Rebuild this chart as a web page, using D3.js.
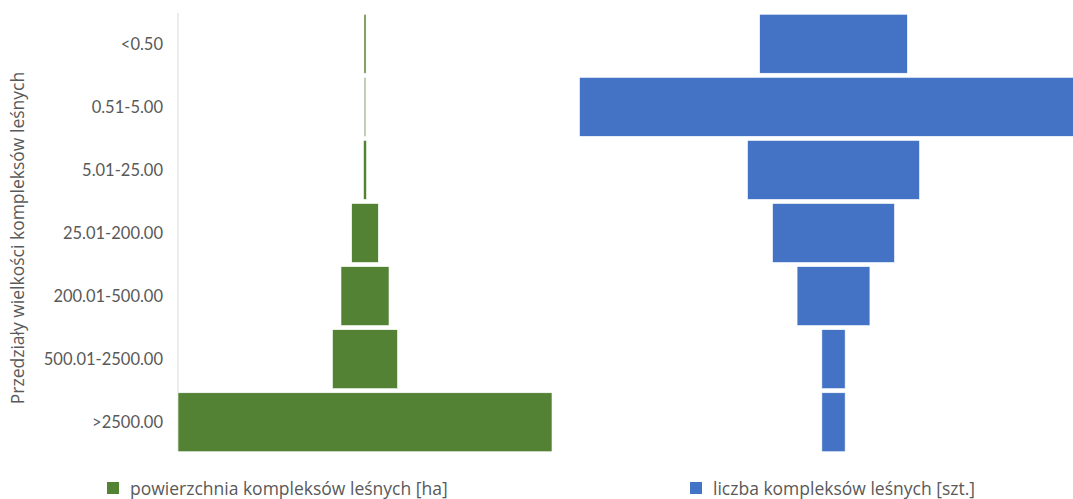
<!DOCTYPE html>
<html>
<head>
<meta charset="utf-8">
<script src="https://cdnjs.cloudflare.com/ajax/libs/d3/7.8.5/d3.min.js"></script>
<style>
  body { margin: 0; background: #fff; }
  svg { display: block; }
  text { font-family: Lato, "Open Sans", sans-serif; fill: #595959; }
  .wide { font-family: "Open Sans", Lato, sans-serif; }
</style>
</head>
<body>
<svg width="1073" height="499"></svg>
<script>
// size classes of forest complexes (top to bottom)
const categories = ['<0.50', '0.51-5.00', '5.01-25.00', '25.01-200.00', '200.01-500.00', '500.01-2500.00', '>2500.00'];

// area of forest complexes [ha]
const areaValues = [2000, 1500, 3000, 25800, 46500, 63000, 362000];

// number of forest complexes
const countValues = [1460, 5020, 1700, 1205, 720, 230, 230];

const seriesNames = ['powierzchnia kompleksów leśnych [ha]', 'liczba kompleksów leśnych [szt.]'];
const colors = ['#548235', '#4472C4'];

const [width, height] = [1073, 499];
const svg = d3.select('svg');

const plotLeft = 178;
const greenCenter = 365;
const blueCenter = 833.5;

const y = d3.scaleBand()
  .domain(categories)
  .range([13, 453])
  .paddingInner(0.065)
  .paddingOuter(0.02);

// each funnel gets its own width scale, the biggest bar spans the panel
const xArea = d3.scaleLinear()
  .domain([0, d3.max(areaValues)])
  .range([0, 374]);

const xCount = d3.scaleLinear()
  .domain([0, d3.max(countValues)])
  .range([0, 508]);

// vertical axis line
svg.append('line')
  .attr('x1', plotLeft).attr('x2', plotLeft)
  .attr('y1', 13).attr('y2', 451)
  .attr('stroke', '#d9d9d9')
  .attr('stroke-width', 1);

// green funnel
svg.append('g').selectAll('rect')
  .data(areaValues)
  .enter()
  .append('rect')
  .attr('x', d => greenCenter - xArea(d) / 2)
  .attr('y', (d, i) => y(categories[i]))
  .attr('width', d => Math.max(1.5, xArea(d)))
  .attr('height', y.bandwidth())
  .attr('fill', colors[0])
  .attr('stroke', '#fff')
  .attr('stroke-width', 0.6);

// blue funnel
svg.append('g').selectAll('rect')
  .data(countValues)
  .enter()
  .append('rect')
  .attr('x', d => blueCenter - xCount(d) / 2)
  .attr('y', (d, i) => y(categories[i]))
  .attr('width', d => xCount(d))
  .attr('height', y.bandwidth())
  .attr('fill', colors[1])
  .attr('stroke', '#fff')
  .attr('stroke-width', 0.6);

// category labels
svg.append('g').selectAll('text')
  .data(categories)
  .enter()
  .append('text')
  .attr('x', 163)
  .attr('y', d => y(d) + y.bandwidth() / 2)
  .attr('dy', '0.35em')
  .attr('text-anchor', 'end')
  .style('font-size', '16.5px')
  .text(d => d);

// axis title
svg.append('text')
  .attr('class', 'wide')
  .attr('transform', 'translate(24, 238) rotate(-90)')
  .attr('text-anchor', 'middle')
  .style('font-size', '17.5px')
  .text('Przedziały wielkości kompleksów leśnych');

// legend
const legendX = [107, 690];
const legend = svg.append('g').selectAll('g')
  .data(seriesNames)
  .enter()
  .append('g')
  .attr('transform', (d, i) => `translate(${legendX[i]}, 482)`);

legend.append('rect')
  .attr('width', 12)
  .attr('height', 12)
  .attr('fill', (d, i) => colors[i]);

legend.append('text')
  .attr('class', 'wide')
  .attr('x', 23)
  .attr('y', 12.5)
  .style('font-size', '17.5px')
  .text(d => d);
</script>
</body>
</html>
